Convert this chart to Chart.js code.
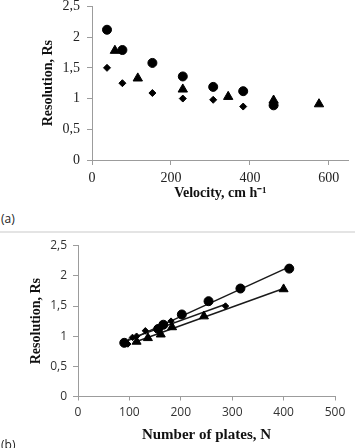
<!DOCTYPE html>
<html>
<head>
<meta charset="utf-8">
<script src="https://cdn.jsdelivr.net/npm/chart.js@4.4.0/dist/chart.umd.min.js"></script>
<style>
  body { margin: 0; background: #fff; width: 355px; height: 448px; position: relative; overflow: hidden; font-family: "Open Sans", sans-serif; }
  #chartA { position: absolute; left: 0; top: 0; }
  #chartB { position: absolute; left: 0; top: 235px; }
  .tag { position: absolute; left: 1px; font-size: 12px; color: #222; }
  #sep { position: absolute; left: 0; top: 231px; width: 355px; height: 2px; background: #e4e4e4; }
</style>
</head>
<body>
<canvas id="chartA" width="355" height="205"></canvas>
<div class="tag" style="top:210px">(a)</div>
<div id="sep"></div>
<canvas id="chartB" width="355" height="213"></canvas>
<div class="tag" style="top:436px">(b)</div>
<script>
// ==========================
// DATA (a) resolution vs velocity
// ==========================
const velCircle = [38, 77, 153, 230, 307, 383, 460];
const rsCircle = [2.12, 1.79, 1.58, 1.36, 1.19, 1.12, 0.89];

const velTriangle = [58, 116, 230, 345, 460, 575];
const rsTriangle = [1.78, 1.33, 1.15, 1.03, 0.97, 0.91];

const velDiamond = [38, 77, 153, 230, 307, 383];
const rsDiamond = [1.50, 1.25, 1.09, 1.00, 0.98, 0.87];

// ==========================
// DATA (b) resolution vs number of plates
// ==========================
const platesCircle = [411, 316, 254, 202, 166, 156, 90];
const platesTriangle = [400, 245, 183, 161, 136, 114];
const platesDiamond = [287, 181, 131, 114, 106, 97];

// ticks
const velTicks = [0, 200, 400, 600];
const platesTicks = [0, 100, 200, 300, 400, 500];
const rsTicks = [0, 0.5, 1, 1.5, 2, 2.5];

// ==========================
// HELPERS
// ==========================
function toPoints(xs, ys) {
  return xs.map((x, i) => ({ x: x, y: ys[i] }));
}

// linear trendline (least squares) between min and max x
function trendline(xs, ys) {
  const n = xs.length;
  let sx = 0, sy = 0, sxx = 0, sxy = 0;
  for (let i = 0; i < n; i++) {
    sx += xs[i]; sy += ys[i];
    sxx += xs[i] * xs[i]; sxy += xs[i] * ys[i];
  }
  const b = (n * sxy - sx * sy) / (n * sxx - sx * sx);
  const a = (sy - b * sx) / n;
  const x0 = Math.min(...xs);
  const x1 = Math.max(...xs);
  return [{ x: x0, y: a + b * x0 }, { x: x1, y: a + b * x1 }];
}

function comma(v) {
  return String(v).replace(".", ",");
}

const AXIS_GREY = "#9c9c9c";
const serif = "'Liberation Serif', 'Times New Roman', serif";
const sans = "'Open Sans', 'Noto Sans', sans-serif";

function markers(data, shape, r) {
  return {
    type: "scatter",
    data: data,
    pointStyle: shape,
    pointRadius: r,
    pointHoverRadius: r,
    backgroundColor: "#000",
    borderColor: "#000",
    borderWidth: 1,
    order: 1
  };
}

function fitLine(data) {
  return {
    type: "line",
    data: data,
    borderColor: "#1a1a1a",
    borderWidth: 1.5,
    pointRadius: 0,
    fill: false,
    order: 2
  };
}

// ==========================
// CHART (a)
// ==========================
new Chart(document.getElementById("chartA"), {
  type: "scatter",
  data: {
    datasets: [
      markers(toPoints(velCircle, rsCircle), "circle", 4.5),
      markers(toPoints(velTriangle, rsTriangle), "triangle", 5.4),
      markers(toPoints(velDiamond, rsDiamond), "rectRot", 3.5)
    ]
  },
  options: {
    responsive: false,
    animation: false,
    layout: { padding: { top: 6, right: -3, left: 0, bottom: 0 } },
    plugins: { legend: { display: false }, tooltip: { enabled: false } },
    scales: {
      x: {
        type: "linear",
        min: 0,
        max: 650,
        afterBuildTicks: s => { s.ticks = velTicks.map(v => ({ value: v })); },
        afterFit: s => { s.height = 45; },
        grid: { drawOnChartArea: false, tickLength: 5, color: AXIS_GREY },
        border: { color: AXIS_GREY },
        ticks: { color: "#222", padding: 5, font: { family: serif, size: 14 } },
        title: {
          display: true,
          text: "Velocity, cm h\u207B\u00B9",
          color: "#111",
          padding: { top: 0, bottom: 3 },
          font: { family: serif, size: 14, weight: "bold" }
        }
      },
      y: {
        min: 0,
        max: 2.5,
        afterBuildTicks: s => { s.ticks = rsTicks.map(v => ({ value: v })); },
        afterFit: s => { s.width = 92; s.paddingTop = 0; s.paddingBottom = 0; },
        grid: { drawOnChartArea: false, tickLength: 5, color: AXIS_GREY },
        border: { color: AXIS_GREY },
        ticks: { color: "#222", padding: 7, font: { family: serif, size: 14 }, callback: v => comma(v) },
        title: {
          display: true,
          text: "Resolution, Rs",
          color: "#111",
          padding: { top: 40, bottom: 0 },
          font: { family: serif, size: 14, weight: "bold" }
        }
      }
    }
  }
});

// ==========================
// CHART (b)
// ==========================
new Chart(document.getElementById("chartB"), {
  type: "scatter",
  data: {
    datasets: [
      markers(toPoints(platesCircle, rsCircle), "circle", 4.5),
      markers(toPoints(platesTriangle, rsTriangle), "triangle", 5.2),
      markers(toPoints(platesDiamond, rsDiamond), "rectRot", 3.2),
      fitLine(trendline(platesCircle, rsCircle)),
      fitLine(trendline(platesTriangle, rsTriangle)),
      fitLine(trendline(platesDiamond, rsDiamond))
    ]
  },
  options: {
    responsive: false,
    animation: false,
    layout: { padding: { top: 10.7, right: 20, left: 0, bottom: 0 } },
    plugins: { legend: { display: false }, tooltip: { enabled: false } },
    scales: {
      x: {
        type: "linear",
        min: 0,
        max: 500,
        afterBuildTicks: s => { s.ticks = platesTicks.map(v => ({ value: v })); },
        afterFit: s => { s.height = 51.5; },
        grid: { drawOnChartArea: false, tickLength: 4, color: AXIS_GREY },
        border: { color: AXIS_GREY },
        ticks: { color: "#333", padding: 5, font: { family: sans, size: 12 } },
        title: {
          display: true,
          text: "Number of plates, N",
          color: "#111",
          padding: { top: 0, bottom: 4 },
          font: { family: serif, size: 15, weight: "bold" }
        }
      },
      y: {
        min: 0,
        max: 2.5,
        afterBuildTicks: s => { s.ticks = rsTicks.map(v => ({ value: v })); },
        afterFit: s => { s.width = 78; s.paddingTop = 0; s.paddingBottom = 0; },
        grid: { drawOnChartArea: false, tickLength: 5, color: AXIS_GREY },
        border: { color: AXIS_GREY },
        ticks: { color: "#333", padding: 6, font: { family: sans, size: 12 }, callback: v => comma(v) },
        title: {
          display: true,
          text: "Resolution, Rs",
          color: "#111",
          padding: { top: 28, bottom: 0 },
          font: { family: serif, size: 14, weight: "bold" }
        }
      }
    }
  }
});
</script>
</body>
</html>
